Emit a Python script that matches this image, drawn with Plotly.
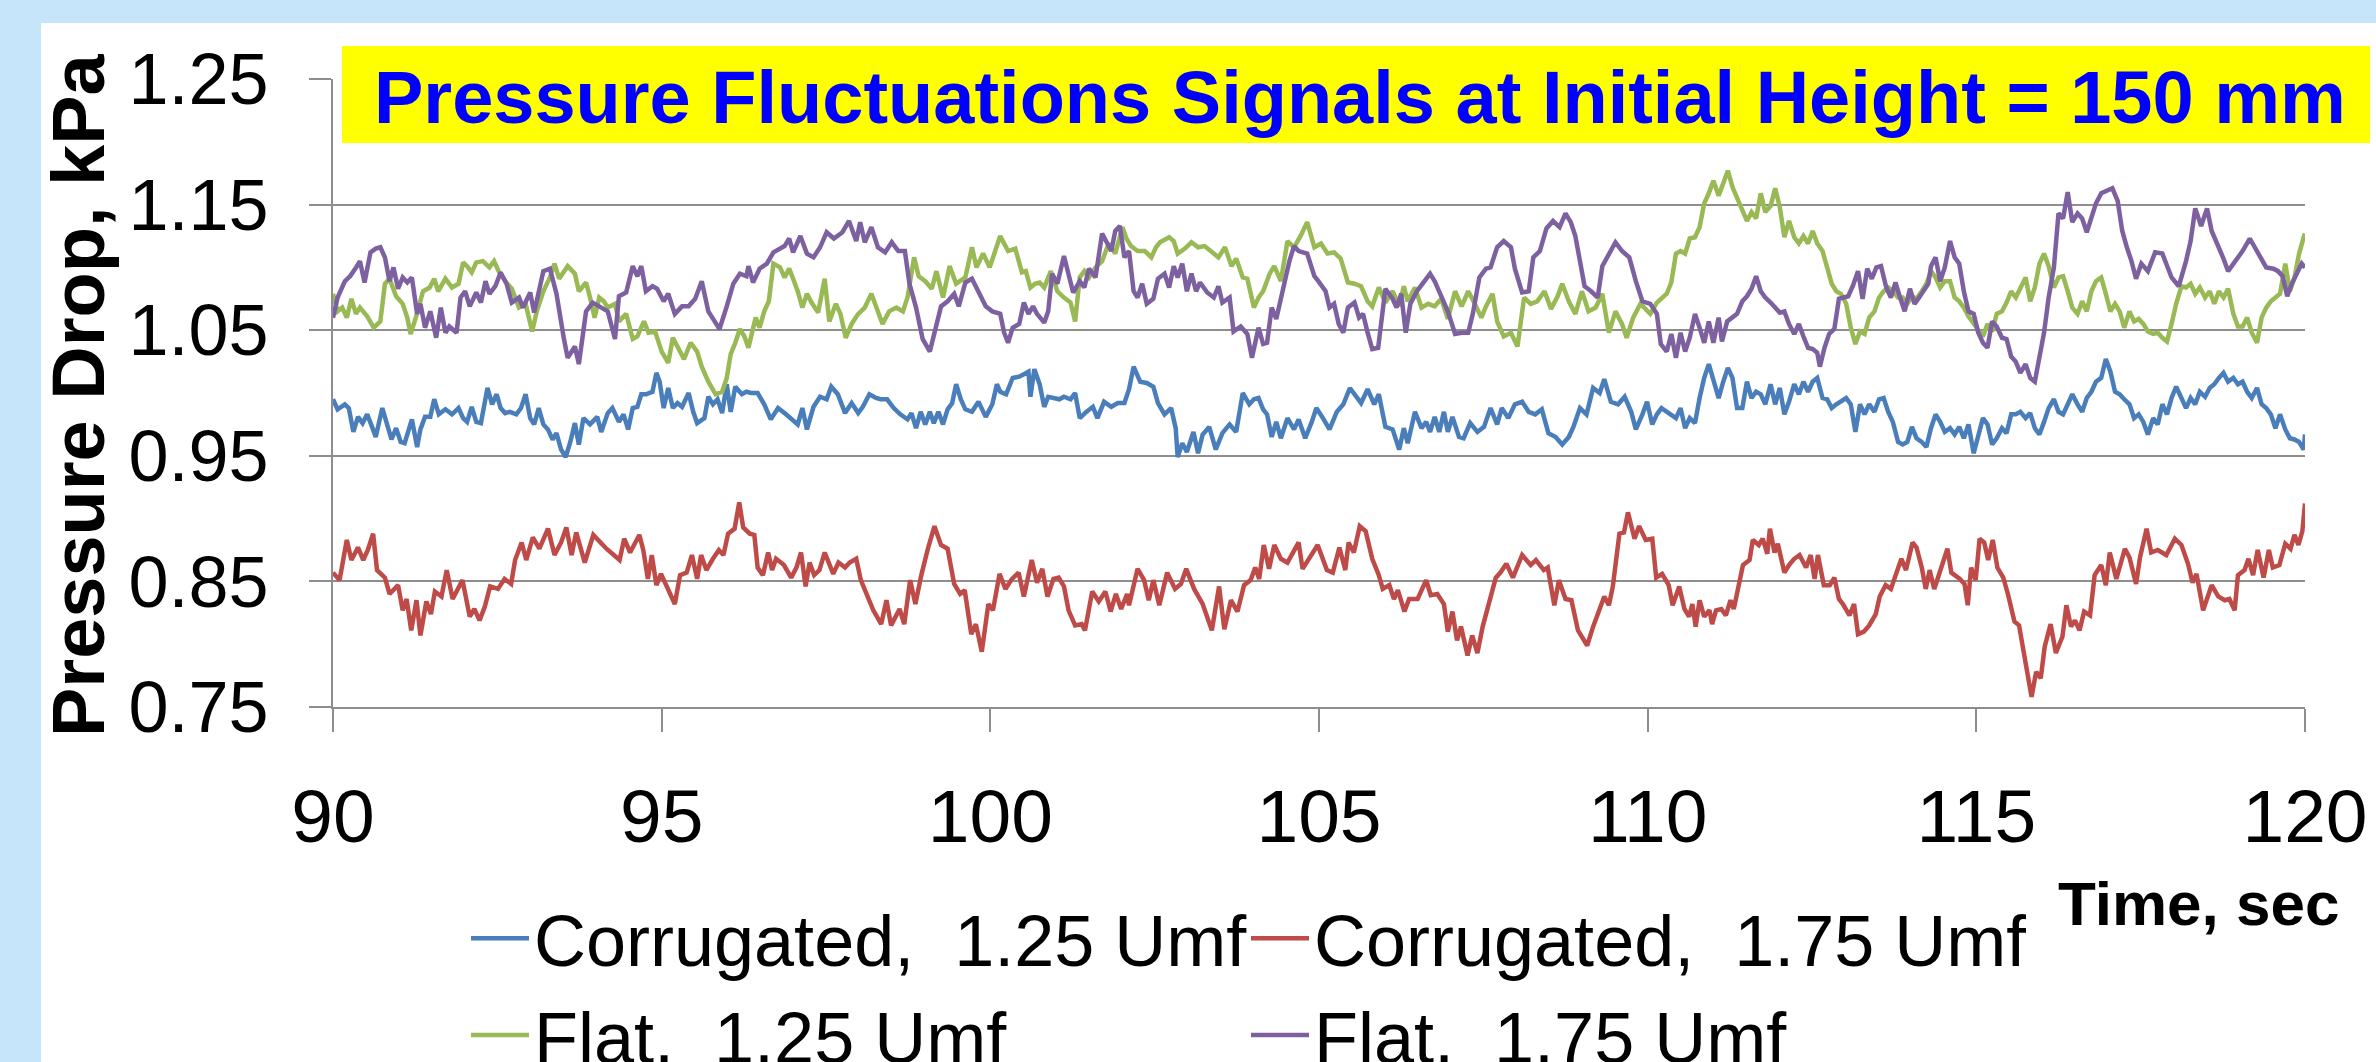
import plotly.graph_objects as go

# ---------------- data ----------------
t_corr125 = [90.00, 90.07, 90.18, 90.24, 90.31, 90.38, 90.45, 90.52, 90.58, 90.65, 90.75, 90.82, 90.89, 90.96, 91.03, 91.09, 91.20, 91.28, 91.33, 91.40,
             91.48, 91.54, 91.61, 91.71, 91.81, 91.91, 91.98, 92.04, 92.11, 92.18, 92.25, 92.35, 92.42, 92.49, 92.55, 92.62, 92.69, 92.79, 92.86, 92.93,
             93.00, 93.06, 93.13, 93.20, 93.27, 93.34, 93.40, 93.47, 93.54, 93.61, 93.68, 93.74, 93.81, 93.91, 94.02, 94.08, 94.18, 94.25, 94.35, 94.42,
             94.49, 94.56, 94.63, 94.69, 94.76, 94.86, 94.92, 94.97, 95.03, 95.10, 95.17, 95.24, 95.31, 95.41, 95.48, 95.54, 95.65, 95.71, 95.78, 95.85,
             95.92, 95.99, 96.05, 96.12, 96.22, 96.29, 96.36, 96.46, 96.56, 96.66, 96.77, 96.87, 96.97, 97.07, 97.14, 97.21, 97.31, 97.41, 97.51, 97.58,
             97.68, 97.79, 97.89, 97.99, 98.06, 98.16, 98.26, 98.33, 98.43, 98.53, 98.63, 98.74, 98.80, 98.87, 98.94, 99.01, 99.08, 99.14, 99.21, 99.28,
             99.35, 99.42, 99.48, 99.55, 99.62, 99.72, 99.82, 99.93, 100.03, 100.10, 100.15, 100.24, 100.34, 100.44, 100.51, 100.58, 100.61, 100.67, 100.75, 100.82,
             100.88, 100.99, 101.05, 101.12, 101.22, 101.29, 101.36, 101.46, 101.56, 101.63, 101.73, 101.84, 101.94, 102.04, 102.11, 102.18, 102.28, 102.38, 102.48, 102.55,
             102.65, 102.75, 102.82, 102.85, 102.92, 102.99, 103.09, 103.16, 103.23, 103.33, 103.43, 103.53, 103.64, 103.74, 103.84, 103.94, 104.01, 104.08, 104.15, 104.21,
             104.28, 104.35, 104.42, 104.52, 104.62, 104.69, 104.79, 104.89, 104.96, 105.06, 105.16, 105.27, 105.37, 105.47, 105.54, 105.64, 105.74, 105.84, 105.91, 106.01,
             106.12, 106.22, 106.29, 106.35, 106.46, 106.56, 106.63, 106.69, 106.76, 106.83, 106.90, 106.96, 107.03, 107.13, 107.20, 107.30, 107.41, 107.51, 107.61, 107.71,
             107.78, 107.88, 107.98, 108.09, 108.19, 108.29, 108.39, 108.49, 108.60, 108.70, 108.80, 108.87, 108.97, 109.07, 109.17, 109.27, 109.34, 109.44, 109.55, 109.65,
             109.75, 109.82, 109.92, 109.99, 110.07, 110.14, 110.21, 110.29, 110.36, 110.43, 110.50, 110.57, 110.64, 110.72, 110.79, 110.86, 110.93, 111.00, 111.08, 111.15,
             111.22, 111.29, 111.36, 111.44, 111.51, 111.58, 111.65, 111.72, 111.79, 111.87, 111.94, 112.01, 112.08, 112.15, 112.23, 112.30, 112.37, 112.44, 112.51, 112.58,
             112.66, 112.73, 112.80, 112.87, 112.94, 113.02, 113.09, 113.16, 113.23, 113.30, 113.37, 113.45, 113.52, 113.59, 113.66, 113.73, 113.81, 113.88, 113.95, 114.02,
             114.09, 114.17, 114.24, 114.31, 114.38, 114.45, 114.52, 114.60, 114.67, 114.74, 114.81, 114.88, 114.96, 115.03, 115.10, 115.17, 115.24, 115.31, 115.39, 115.46,
             115.53, 115.60, 115.67, 115.75, 115.82, 115.89, 115.96, 116.03, 116.10, 116.18, 116.25, 116.32, 116.39, 116.46, 116.54, 116.61, 116.68, 116.75, 116.82, 116.90,
             116.97, 117.04, 117.11, 117.18, 117.25, 117.33, 117.40, 117.47, 117.54, 117.61, 117.69, 117.76, 117.83, 117.90, 117.97, 118.04, 118.12, 118.19, 118.26, 118.33,
             118.40, 118.48, 118.55, 118.62, 118.69, 118.76, 118.83, 118.91, 118.98, 119.05, 119.12, 119.19, 119.27, 119.34, 119.41, 119.48, 119.55, 119.62, 119.70, 119.77,
             119.84, 119.91, 119.98, 120.00]
p_corr125 = [0.995, 0.987, 0.991, 0.988, 0.969, 0.981, 0.976, 0.983, 0.975, 0.965, 0.988, 0.975, 0.963, 0.972, 0.961, 0.960, 0.979, 0.957, 0.971, 0.981,
             0.981, 0.995, 0.983, 0.987, 0.983, 0.988, 0.980, 0.977, 0.989, 0.977, 0.976, 1.004, 0.991, 0.999, 0.988, 0.984, 0.985, 0.983, 0.988, 0.999,
             0.980, 0.975, 0.988, 0.975, 0.971, 0.963, 0.968, 0.955, 0.949, 0.961, 0.976, 0.959, 0.980, 0.975, 0.981, 0.969, 0.984, 0.988, 0.977, 0.983,
             0.971, 0.988, 0.989, 0.999, 0.999, 1.001, 1.016, 1.009, 0.988, 1.004, 0.988, 0.992, 0.989, 1.000, 0.985, 0.976, 0.980, 0.997, 0.991, 0.995,
             0.984, 1.007, 0.985, 1.005, 0.999, 1.001, 1.000, 1.000, 0.991, 0.979, 0.988, 0.984, 0.980, 0.975, 0.988, 0.971, 0.989, 0.997, 0.995, 1.005,
             0.999, 0.984, 0.992, 0.984, 0.989, 0.999, 0.996, 0.995, 0.995, 0.988, 0.983, 0.979, 0.984, 0.972, 0.985, 0.975, 0.985, 0.976, 0.985, 0.975,
             0.987, 0.992, 1.007, 0.995, 0.987, 0.985, 0.993, 0.981, 0.991, 1.007, 1.001, 0.999, 1.012, 1.013, 1.015, 1.017, 0.997, 1.019, 1.007, 0.989,
             0.997, 0.996, 0.995, 0.997, 0.995, 1.000, 0.980, 0.985, 0.989, 0.980, 0.993, 0.989, 0.992, 0.992, 1.003, 1.021, 1.009, 1.008, 1.005, 0.992,
             0.983, 0.988, 0.972, 0.949, 0.960, 0.953, 0.969, 0.952, 0.967, 0.973, 0.955, 0.968, 0.975, 0.969, 1.000, 0.991, 0.995, 0.996, 0.987, 0.983,
             0.965, 0.977, 0.964, 0.980, 0.971, 0.979, 0.964, 0.977, 0.988, 0.980, 0.971, 0.985, 0.991, 1.004, 0.999, 0.992, 1.003, 0.991, 0.999, 0.973,
             0.971, 0.955, 0.972, 0.960, 0.985, 0.972, 0.977, 0.969, 0.981, 0.969, 0.985, 0.969, 0.981, 0.965, 0.964, 0.976, 0.969, 0.973, 0.988, 0.975,
             0.988, 0.980, 0.991, 0.993, 0.985, 0.983, 0.987, 0.968, 0.965, 0.959, 0.965, 0.973, 0.988, 0.983, 1.004, 1.000, 1.011, 0.993, 0.991, 0.997,
             0.985, 0.971, 0.983, 0.993, 0.975, 0.983, 0.988, 0.985, 0.983, 0.980, 0.988, 0.972, 0.980, 0.976, 0.996, 1.012, 1.023, 1.009, 0.996, 1.009,
             1.020, 1.012, 0.988, 0.988, 1.009, 0.996, 1.001, 0.999, 0.991, 1.007, 0.991, 1.004, 0.983, 0.993, 1.007, 0.999, 1.009, 1.001, 1.009, 1.012,
             0.996, 0.995, 0.988, 0.991, 0.993, 0.996, 0.991, 0.969, 0.991, 0.983, 0.991, 0.985, 0.995, 0.996, 0.985, 0.977, 0.961, 0.959, 0.961, 0.973,
             0.964, 0.961, 0.957, 0.972, 0.983, 0.977, 0.969, 0.972, 0.967, 0.973, 0.964, 0.975, 0.952, 0.967, 0.980, 0.975, 0.959, 0.964, 0.972, 0.968,
             0.983, 0.983, 0.985, 0.980, 0.984, 0.972, 0.967, 0.977, 0.988, 0.995, 0.985, 0.983, 0.991, 0.999, 0.991, 0.985, 0.996, 1.001, 1.009, 1.012,
             1.027, 1.017, 1.001, 0.999, 0.995, 0.991, 0.980, 0.983, 0.977, 0.967, 0.980, 0.975, 0.991, 0.983, 0.996, 1.005, 0.996, 0.988, 0.996, 0.991,
             1.001, 0.997, 1.004, 1.007, 1.012, 1.016, 1.009, 1.012, 1.007, 1.009, 1.001, 0.996, 1.004, 0.991, 0.988, 0.983, 0.972, 0.983, 0.971, 0.964,
             0.963, 0.961, 0.955, 0.967]

t_corr175 = [90.00, 90.10, 90.21, 90.28, 90.38, 90.46, 90.53, 90.61, 90.67, 90.79, 90.86, 90.99, 91.06, 91.12, 91.19, 91.27, 91.33, 91.42, 91.49, 91.55,
             91.65, 91.73, 91.82, 91.97, 92.08, 92.15, 92.23, 92.31, 92.39, 92.51, 92.61, 92.71, 92.77, 92.87, 92.94, 93.04, 93.14, 93.27, 93.37, 93.47,
             93.55, 93.63, 93.70, 93.83, 93.96, 94.16, 94.36, 94.43, 94.52, 94.66, 94.72, 94.79, 94.85, 94.92, 94.99, 95.09, 95.20, 95.28, 95.38, 95.46,
             95.54, 95.60, 95.68, 95.78, 95.87, 95.94, 96.01, 96.11, 96.18, 96.24, 96.34, 96.41, 96.46, 96.54, 96.62, 96.68, 96.74, 96.86, 96.97, 97.05,
             97.12, 97.19, 97.25, 97.32, 97.40, 97.48, 97.61, 97.69, 97.79, 97.86, 97.96, 98.03, 98.12, 98.22, 98.34, 98.42, 98.49, 98.62, 98.69, 98.78,
             98.86, 98.95, 99.05, 99.15, 99.25, 99.35, 99.45, 99.54, 99.61, 99.71, 99.78, 99.87, 99.97, 100.04, 100.14, 100.23, 100.33, 100.43, 100.51, 100.63,
             100.71, 100.79, 100.87, 100.96, 101.04, 101.12, 101.19, 101.29, 101.39, 101.44, 101.55, 101.65, 101.75, 101.83, 101.91, 101.99, 102.08, 102.11, 102.24, 102.34,
             102.41, 102.48, 102.57, 102.69, 102.81, 102.90, 102.98, 103.10, 103.23, 103.37, 103.48, 103.56, 103.66, 103.76, 103.86, 103.96, 104.03, 104.09, 104.16, 104.24,
             104.32, 104.42, 104.52, 104.69, 104.75, 104.88, 104.98, 105.12, 105.21, 105.31, 105.40, 105.45, 105.53, 105.62, 105.71, 105.81, 105.91, 105.97, 106.07, 106.14,
             106.20, 106.30, 106.37, 106.50, 106.63, 106.70, 106.80, 106.90, 106.96, 107.03, 107.10, 107.16, 107.26, 107.33, 107.41, 107.49, 107.58, 107.69, 107.76, 107.85,
             107.95, 108.09, 108.22, 108.30, 108.42, 108.48, 108.58, 108.65, 108.75, 108.84, 108.94, 109.08, 109.17, 109.24, 109.34, 109.41, 109.47, 109.57, 109.64, 109.70,
             109.80, 109.87, 109.97, 110.07, 110.13, 110.22, 110.32, 110.38, 110.48, 110.56, 110.63, 110.68, 110.73, 110.79, 110.86, 110.94, 110.98, 111.04, 111.12, 111.19,
             111.26, 111.31, 111.39, 111.45, 111.55, 111.60, 111.69, 111.75, 111.82, 111.86, 111.93, 111.98, 112.08, 112.15, 112.23, 112.31, 112.41, 112.48, 112.54, 112.59,
             112.68, 112.77, 112.84, 112.91, 112.97, 113.07, 113.14, 113.20, 113.29, 113.37, 113.47, 113.53, 113.62, 113.70, 113.80, 113.86, 113.93, 114.03, 114.09, 114.17,
             114.23, 114.29, 114.36, 114.46, 114.56, 114.62, 114.75, 114.82, 114.87, 114.92, 114.99, 115.05, 115.12, 115.18, 115.25, 115.32, 115.41, 115.48, 115.58, 115.65,
             115.74, 115.84, 115.91, 115.98, 116.04, 116.13, 116.21, 116.31, 116.37, 116.44, 116.50, 116.57, 116.64, 116.73, 116.80, 116.90, 116.97, 117.03, 117.13, 117.26,
             117.33, 117.43, 117.49, 117.59, 117.66, 117.76, 117.89, 118.02, 118.12, 118.22, 118.29, 118.35, 118.45, 118.52, 118.58, 118.68, 118.78, 118.85, 118.93, 118.98,
             119.08, 119.14, 119.21, 119.28, 119.37, 119.45, 119.51, 119.61, 119.70, 119.78, 119.84, 119.90, 119.96, 120.00]
p_corr175 = [0.857, 0.851, 0.883, 0.867, 0.877, 0.867, 0.875, 0.888, 0.859, 0.853, 0.840, 0.847, 0.827, 0.836, 0.811, 0.835, 0.807, 0.834, 0.824, 0.842,
             0.838, 0.859, 0.836, 0.851, 0.822, 0.828, 0.819, 0.830, 0.846, 0.844, 0.852, 0.848, 0.867, 0.881, 0.867, 0.885, 0.876, 0.892, 0.871, 0.881,
             0.893, 0.871, 0.889, 0.865, 0.887, 0.876, 0.867, 0.884, 0.873, 0.887, 0.875, 0.852, 0.871, 0.847, 0.856, 0.845, 0.832, 0.855, 0.857, 0.871,
             0.852, 0.871, 0.859, 0.868, 0.875, 0.871, 0.888, 0.892, 0.913, 0.893, 0.888, 0.887, 0.861, 0.855, 0.873, 0.859, 0.868, 0.863, 0.853, 0.861,
             0.873, 0.846, 0.865, 0.855, 0.859, 0.873, 0.856, 0.865, 0.861, 0.865, 0.868, 0.851, 0.840, 0.827, 0.816, 0.835, 0.815, 0.828, 0.816, 0.851,
             0.832, 0.855, 0.876, 0.894, 0.879, 0.876, 0.848, 0.840, 0.843, 0.808, 0.816, 0.794, 0.832, 0.827, 0.856, 0.844, 0.852, 0.857, 0.838, 0.867,
             0.849, 0.860, 0.838, 0.852, 0.853, 0.846, 0.827, 0.815, 0.816, 0.811, 0.842, 0.834, 0.842, 0.826, 0.840, 0.828, 0.840, 0.831, 0.860, 0.851,
             0.835, 0.851, 0.831, 0.857, 0.844, 0.848, 0.860, 0.844, 0.832, 0.811, 0.846, 0.812, 0.835, 0.826, 0.847, 0.851, 0.861, 0.852, 0.879, 0.860,
             0.879, 0.868, 0.865, 0.881, 0.860, 0.871, 0.879, 0.859, 0.857, 0.877, 0.859, 0.881, 0.873, 0.894, 0.890, 0.868, 0.855, 0.844, 0.847, 0.836,
             0.843, 0.826, 0.836, 0.836, 0.851, 0.839, 0.840, 0.832, 0.810, 0.826, 0.803, 0.814, 0.791, 0.807, 0.793, 0.814, 0.832, 0.853, 0.857, 0.864,
             0.853, 0.871, 0.863, 0.867, 0.859, 0.861, 0.831, 0.851, 0.836, 0.835, 0.811, 0.799, 0.814, 0.824, 0.838, 0.831, 0.846, 0.888, 0.889, 0.905,
             0.884, 0.894, 0.883, 0.884, 0.853, 0.856, 0.847, 0.831, 0.846, 0.828, 0.822, 0.832, 0.814, 0.835, 0.822, 0.827, 0.816, 0.827, 0.828, 0.823,
             0.835, 0.828, 0.849, 0.863, 0.867, 0.883, 0.879, 0.884, 0.872, 0.892, 0.873, 0.880, 0.857, 0.863, 0.868, 0.871, 0.861, 0.871, 0.852, 0.871,
             0.847, 0.847, 0.853, 0.836, 0.832, 0.823, 0.832, 0.808, 0.810, 0.815, 0.824, 0.838, 0.847, 0.844, 0.859, 0.868, 0.859, 0.881, 0.877, 0.861,
             0.844, 0.859, 0.844, 0.859, 0.876, 0.857, 0.852, 0.848, 0.831, 0.861, 0.851, 0.884, 0.881, 0.867, 0.883, 0.861, 0.853, 0.840, 0.818, 0.815,
             0.786, 0.758, 0.778, 0.773, 0.798, 0.816, 0.793, 0.806, 0.831, 0.814, 0.819, 0.811, 0.826, 0.823, 0.855, 0.863, 0.847, 0.873, 0.852, 0.876,
             0.869, 0.848, 0.869, 0.892, 0.873, 0.875, 0.871, 0.884, 0.879, 0.864, 0.849, 0.856, 0.827, 0.839, 0.847, 0.838, 0.835, 0.836, 0.827, 0.855,
             0.859, 0.868, 0.855, 0.875, 0.853, 0.875, 0.861, 0.863, 0.880, 0.876, 0.887, 0.879, 0.890, 0.912]

t_flat125 = [90.00, 90.07, 90.14, 90.21, 90.28, 90.35, 90.41, 90.52, 90.62, 90.72, 90.79, 90.86, 90.96, 91.06, 91.13, 91.18, 91.26, 91.37, 91.47, 91.54,
             91.60, 91.71, 91.81, 91.91, 91.98, 92.04, 92.11, 92.18, 92.28, 92.38, 92.45, 92.52, 92.62, 92.72, 92.83, 92.93, 93.03, 93.10, 93.20, 93.30,
             93.37, 93.44, 93.57, 93.68, 93.74, 93.85, 93.91, 93.98, 94.05, 94.12, 94.18, 94.29, 94.35, 94.46, 94.56, 94.63, 94.73, 94.80, 94.90, 95.00,
             95.10, 95.17, 95.24, 95.34, 95.44, 95.54, 95.61, 95.71, 95.82, 95.92, 95.99, 96.05, 96.12, 96.19, 96.26, 96.32, 96.43, 96.49, 96.56, 96.63,
             96.70, 96.80, 96.87, 96.94, 97.00, 97.07, 97.14, 97.21, 97.28, 97.38, 97.48, 97.55, 97.65, 97.72, 97.80, 97.89, 97.99, 98.09, 98.19, 98.29,
             98.36, 98.46, 98.57, 98.67, 98.74, 98.84, 98.91, 99.01, 99.11, 99.18, 99.28, 99.38, 99.48, 99.62, 99.72, 99.79, 99.89, 99.99, 100.15, 100.27,
             100.38, 100.48, 100.54, 100.61, 100.68, 100.75, 100.82, 100.92, 101.02, 101.12, 101.22, 101.29, 101.36, 101.43, 101.50, 101.60, 101.70, 101.80, 101.90, 102.01,
             102.07, 102.14, 102.24, 102.35, 102.45, 102.52, 102.58, 102.72, 102.79, 102.85, 102.96, 103.06, 103.16, 103.26, 103.36, 103.47, 103.57, 103.67, 103.74, 103.84,
             103.91, 104.01, 104.08, 104.15, 104.25, 104.32, 104.42, 104.52, 104.62, 104.72, 104.82, 104.93, 105.03, 105.13, 105.23, 105.33, 105.44, 105.54, 105.64, 105.74,
             105.81, 105.91, 106.01, 106.12, 106.22, 106.29, 106.35, 106.46, 106.56, 106.66, 106.76, 106.86, 106.96, 107.07, 107.17, 107.27, 107.37, 107.47, 107.54, 107.64,
             107.71, 107.81, 107.92, 108.02, 108.12, 108.22, 108.32, 108.43, 108.53, 108.63, 108.70, 108.80, 108.90, 109.00, 109.10, 109.21, 109.31, 109.41, 109.51, 109.61,
             109.68, 109.78, 109.89, 110.04, 110.14, 110.21, 110.29, 110.36, 110.43, 110.50, 110.57, 110.64, 110.72, 110.79, 110.86, 110.93, 111.00, 111.08, 111.15, 111.22,
             111.29, 111.36, 111.44, 111.51, 111.58, 111.65, 111.72, 111.79, 111.87, 111.94, 112.01, 112.08, 112.15, 112.23, 112.30, 112.37, 112.44, 112.51, 112.58, 112.66,
             112.73, 112.80, 112.87, 112.94, 113.02, 113.09, 113.16, 113.23, 113.30, 113.37, 113.45, 113.52, 113.59, 113.66, 113.73, 113.81, 113.88, 113.95, 114.02, 114.09,
             114.17, 114.24, 114.31, 114.38, 114.45, 114.52, 114.60, 114.67, 114.74, 114.81, 114.88, 114.96, 115.03, 115.10, 115.17, 115.24, 115.31, 115.39, 115.46, 115.53,
             115.60, 115.67, 115.75, 115.82, 115.89, 115.96, 116.03, 116.10, 116.18, 116.25, 116.32, 116.39, 116.46, 116.54, 116.61, 116.68, 116.75, 116.82, 116.90, 116.97,
             117.04, 117.11, 117.18, 117.25, 117.33, 117.40, 117.47, 117.54, 117.61, 117.69, 117.76, 117.83, 117.90, 117.97, 118.04, 118.12, 118.19, 118.26, 118.33, 118.40,
             118.48, 118.55, 118.62, 118.69, 118.76, 118.83, 118.91, 118.98, 119.05, 119.12, 119.19, 119.27, 119.34, 119.41, 119.48, 119.55, 119.62, 119.70, 119.77, 119.84,
             119.91, 119.98, 120.00]
p_flat125 = [1.079, 1.065, 1.068, 1.060, 1.075, 1.063, 1.068, 1.061, 1.052, 1.057, 1.087, 1.091, 1.077, 1.071, 1.060, 1.047, 1.060, 1.081, 1.084, 1.091,
             1.081, 1.091, 1.084, 1.087, 1.104, 1.101, 1.096, 1.104, 1.105, 1.100, 1.105, 1.097, 1.089, 1.083, 1.068, 1.071, 1.049, 1.065, 1.081, 1.092,
             1.103, 1.091, 1.101, 1.095, 1.081, 1.088, 1.076, 1.060, 1.076, 1.073, 1.068, 1.071, 1.057, 1.063, 1.043, 1.045, 1.057, 1.048, 1.049, 1.033,
             1.024, 1.044, 1.037, 1.027, 1.040, 1.033, 1.021, 1.009, 0.999, 1.001, 1.012, 1.031, 1.040, 1.051, 1.045, 1.036, 1.060, 1.052, 1.065, 1.073,
             1.103, 1.100, 1.092, 1.099, 1.091, 1.081, 1.068, 1.079, 1.072, 1.064, 1.091, 1.057, 1.071, 1.063, 1.044, 1.055, 1.063, 1.068, 1.079, 1.065,
             1.055, 1.065, 1.068, 1.065, 1.076, 1.108, 1.093, 1.089, 1.083, 1.097, 1.076, 1.101, 1.087, 1.092, 1.116, 1.100, 1.111, 1.100, 1.125, 1.113,
             1.115, 1.096, 1.097, 1.084, 1.087, 1.088, 1.084, 1.097, 1.081, 1.076, 1.072, 1.057, 1.092, 1.097, 1.092, 1.100, 1.105, 1.119, 1.111, 1.132,
             1.123, 1.117, 1.113, 1.113, 1.108, 1.116, 1.120, 1.124, 1.121, 1.111, 1.115, 1.120, 1.116, 1.117, 1.113, 1.108, 1.116, 1.101, 1.107, 1.092,
             1.091, 1.068, 1.076, 1.081, 1.095, 1.101, 1.089, 1.121, 1.116, 1.125, 1.136, 1.116, 1.119, 1.111, 1.112, 1.107, 1.088, 1.087, 1.085, 1.073,
             1.069, 1.084, 1.072, 1.081, 1.069, 1.085, 1.073, 1.084, 1.068, 1.071, 1.069, 1.075, 1.059, 1.081, 1.069, 1.081, 1.071, 1.060, 1.069, 1.079,
             1.057, 1.045, 1.048, 1.037, 1.076, 1.071, 1.073, 1.081, 1.067, 1.077, 1.087, 1.073, 1.063, 1.081, 1.065, 1.068, 1.079, 1.048, 1.065, 1.055,
             1.044, 1.060, 1.071, 1.063, 1.072, 1.075, 1.079, 1.088, 1.111, 1.113, 1.111, 1.123, 1.124, 1.132, 1.151, 1.159, 1.169, 1.157, 1.168, 1.177,
             1.164, 1.156, 1.147, 1.137, 1.144, 1.139, 1.159, 1.144, 1.149, 1.163, 1.148, 1.124, 1.137, 1.124, 1.119, 1.125, 1.119, 1.129, 1.119, 1.113,
             1.100, 1.087, 1.081, 1.079, 1.071, 1.052, 1.039, 1.049, 1.047, 1.060, 1.065, 1.076, 1.081, 1.084, 1.081, 1.076, 1.076, 1.071, 1.077, 1.075,
             1.081, 1.087, 1.097, 1.092, 1.084, 1.089, 1.089, 1.076, 1.073, 1.068, 1.061, 1.055, 1.049, 1.045, 1.055, 1.049, 1.063, 1.065, 1.072, 1.081,
             1.076, 1.084, 1.092, 1.073, 1.084, 1.103, 1.111, 1.101, 1.084, 1.092, 1.093, 1.081, 1.068, 1.063, 1.073, 1.065, 1.081, 1.089, 1.092, 1.079,
             1.065, 1.071, 1.065, 1.052, 1.065, 1.057, 1.059, 1.055, 1.049, 1.047, 1.048, 1.044, 1.041, 1.055, 1.071, 1.085, 1.084, 1.087, 1.079, 1.084,
             1.076, 1.081, 1.071, 1.081, 1.076, 1.083, 1.063, 1.053, 1.053, 1.060, 1.048, 1.040, 1.060, 1.068, 1.073, 1.076, 1.079, 1.103, 1.081, 1.092,
             1.111, 1.124, 1.127]

t_flat175 = [90.00, 90.07, 90.18, 90.26, 90.35, 90.41, 90.48, 90.57, 90.65, 90.72, 90.79, 90.86, 90.92, 90.99, 91.06, 91.13, 91.20, 91.28, 91.33, 91.40,
             91.48, 91.57, 91.64, 91.71, 91.77, 91.88, 91.94, 92.01, 92.08, 92.18, 92.25, 92.32, 92.38, 92.47, 92.55, 92.64, 92.72, 92.83, 92.89, 93.00,
             93.06, 93.13, 93.20, 93.30, 93.40, 93.51, 93.57, 93.68, 93.74, 93.85, 93.95, 94.05, 94.18, 94.29, 94.35, 94.46, 94.56, 94.63, 94.69, 94.76,
             94.86, 94.93, 95.03, 95.10, 95.20, 95.31, 95.41, 95.51, 95.61, 95.71, 95.82, 95.88, 95.99, 96.09, 96.19, 96.29, 96.32, 96.39, 96.49, 96.60,
             96.70, 96.80, 96.87, 96.94, 97.00, 97.11, 97.21, 97.31, 97.41, 97.51, 97.62, 97.75, 97.85, 97.96, 98.02, 98.09, 98.19, 98.29, 98.40, 98.50,
             98.60, 98.70, 98.77, 98.87, 98.97, 99.08, 99.14, 99.25, 99.35, 99.45, 99.52, 99.62, 99.72, 99.82, 99.93, 100.03, 100.15, 100.21, 100.27, 100.34,
             100.44, 100.51, 100.58, 100.65, 100.71, 100.82, 100.88, 100.94, 101.02, 101.12, 101.19, 101.26, 101.36, 101.43, 101.50, 101.60, 101.70, 101.77, 101.84, 101.90,
             101.97, 102.04, 102.11, 102.18, 102.24, 102.31, 102.38, 102.48, 102.55, 102.65, 102.72, 102.79, 102.85, 102.92, 102.99, 103.06, 103.13, 103.19, 103.30, 103.40,
             103.47, 103.53, 103.64, 103.70, 103.81, 103.91, 103.98, 104.08, 104.15, 104.21, 104.28, 104.35, 104.42, 104.49, 104.55, 104.62, 104.69, 104.82, 104.93, 104.99,
             105.10, 105.16, 105.23, 105.30, 105.37, 105.44, 105.54, 105.61, 105.67, 105.74, 105.81, 105.90, 105.95, 106.01, 106.12, 106.18, 106.25, 106.32, 106.39, 106.49,
             106.59, 106.69, 106.76, 106.86, 106.96, 107.07, 107.17, 107.27, 107.34, 107.44, 107.54, 107.61, 107.71, 107.81, 107.92, 107.98, 108.09, 108.19, 108.26, 108.36,
             108.46, 108.56, 108.66, 108.75, 108.83, 108.90, 108.97, 109.04, 109.14, 109.24, 109.31, 109.41, 109.51, 109.61, 109.72, 109.82, 109.92, 110.04, 110.14, 110.20,
             110.29, 110.36, 110.43, 110.50, 110.57, 110.64, 110.72, 110.79, 110.86, 110.93, 111.00, 111.08, 111.13, 111.21, 111.29, 111.36, 111.44, 111.51, 111.58, 111.65,
             111.72, 111.79, 111.87, 111.94, 112.01, 112.08, 112.15, 112.23, 112.30, 112.37, 112.44, 112.51, 112.58, 112.62, 112.69, 112.76, 112.84, 112.91, 112.98, 113.05,
             113.12, 113.20, 113.27, 113.34, 113.41, 113.48, 113.55, 113.63, 113.70, 113.77, 113.84, 113.91, 113.99, 114.06, 114.13, 114.20, 114.27, 114.31, 114.38, 114.45,
             114.52, 114.60, 114.67, 114.74, 114.81, 114.88, 114.96, 115.03, 115.10, 115.17, 115.24, 115.31, 115.39, 115.46, 115.53, 115.60, 115.67, 115.75, 115.82, 115.89,
             115.96, 116.03, 116.10, 116.18, 116.25, 116.32, 116.39, 116.46, 116.54, 116.61, 116.68, 116.75, 116.82, 116.90, 116.97, 117.07, 117.15, 117.22, 117.29, 117.36,
             117.43, 117.51, 117.61, 117.72, 117.83, 117.90, 117.97, 118.08, 118.19, 118.26, 118.33, 118.42, 118.51, 118.58, 118.69, 118.76, 118.83, 118.94, 119.05, 119.16,
             119.27, 119.34, 119.41, 119.52, 119.59, 119.66, 119.73, 119.80, 119.88, 119.95, 120.00]
p_flat175 = [1.060, 1.076, 1.089, 1.093, 1.100, 1.105, 1.088, 1.112, 1.115, 1.116, 1.108, 1.089, 1.100, 1.083, 1.092, 1.088, 1.092, 1.063, 1.071, 1.052,
             1.065, 1.044, 1.068, 1.048, 1.053, 1.048, 1.076, 1.081, 1.069, 1.080, 1.072, 1.089, 1.079, 1.085, 1.096, 1.087, 1.072, 1.076, 1.068, 1.080,
             1.064, 1.079, 1.097, 1.099, 1.079, 1.044, 1.028, 1.037, 1.023, 1.065, 1.072, 1.069, 1.065, 1.043, 1.077, 1.080, 1.101, 1.093, 1.101, 1.081,
             1.085, 1.083, 1.073, 1.079, 1.063, 1.069, 1.069, 1.075, 1.089, 1.065, 1.056, 1.051, 1.069, 1.087, 1.095, 1.093, 1.101, 1.088, 1.099, 1.103,
             1.112, 1.115, 1.117, 1.123, 1.112, 1.125, 1.111, 1.108, 1.116, 1.128, 1.123, 1.128, 1.137, 1.121, 1.136, 1.120, 1.132, 1.116, 1.112, 1.120,
             1.113, 1.113, 1.087, 1.068, 1.043, 1.033, 1.045, 1.069, 1.073, 1.079, 1.069, 1.088, 1.091, 1.080, 1.069, 1.065, 1.063, 1.048, 1.040, 1.052,
             1.055, 1.072, 1.063, 1.069, 1.063, 1.056, 1.065, 1.095, 1.087, 1.109, 1.095, 1.080, 1.089, 1.084, 1.099, 1.092, 1.127, 1.120, 1.113, 1.129,
             1.133, 1.108, 1.113, 1.081, 1.076, 1.087, 1.071, 1.075, 1.091, 1.095, 1.084, 1.101, 1.092, 1.103, 1.081, 1.095, 1.081, 1.088, 1.080, 1.076,
             1.085, 1.072, 1.076, 1.049, 1.053, 1.047, 1.028, 1.052, 1.039, 1.040, 1.068, 1.059, 1.076, 1.089, 1.105, 1.117, 1.113, 1.111, 1.093, 1.089,
             1.081, 1.068, 1.071, 1.055, 1.048, 1.068, 1.072, 1.060, 1.063, 1.048, 1.035, 1.036, 1.055, 1.083, 1.075, 1.068, 1.079, 1.048, 1.071, 1.081,
             1.088, 1.095, 1.089, 1.076, 1.065, 1.047, 1.048, 1.048, 1.063, 1.092, 1.099, 1.100, 1.116, 1.121, 1.116, 1.099, 1.080, 1.081, 1.108, 1.113,
             1.131, 1.137, 1.132, 1.143, 1.136, 1.125, 1.105, 1.085, 1.081, 1.076, 1.101, 1.111, 1.120, 1.113, 1.108, 1.089, 1.073, 1.071, 1.063, 1.039,
             1.033, 1.047, 1.028, 1.048, 1.033, 1.044, 1.063, 1.052, 1.040, 1.057, 1.040, 1.060, 1.041, 1.057, 1.060, 1.063, 1.073, 1.077, 1.083, 1.093,
             1.081, 1.076, 1.072, 1.068, 1.064, 1.065, 1.055, 1.047, 1.055, 1.045, 1.036, 1.035, 1.032, 1.021, 1.036, 1.047, 1.051, 1.075, 1.076, 1.077,
             1.085, 1.097, 1.075, 1.099, 1.091, 1.100, 1.101, 1.084, 1.076, 1.088, 1.076, 1.065, 1.083, 1.071, 1.076, 1.081, 1.087, 1.101, 1.108, 1.089,
             1.100, 1.121, 1.108, 1.103, 1.081, 1.065, 1.063, 1.048, 1.040, 1.036, 1.057, 1.053, 1.044, 1.043, 1.029, 1.025, 1.016, 1.023, 1.012, 1.009,
             1.028, 1.048, 1.076, 1.100, 1.143, 1.139, 1.160, 1.136, 1.143, 1.139, 1.128, 1.139, 1.151, 1.159, 1.161, 1.163, 1.153, 1.129, 1.116, 1.105,
             1.091, 1.103, 1.097, 1.112, 1.111, 1.101, 1.092, 1.085, 1.105, 1.121, 1.147, 1.133, 1.147, 1.129, 1.116, 1.107, 1.097, 1.105, 1.113, 1.123,
             1.113, 1.108, 1.100, 1.099, 1.097, 1.093, 1.077, 1.087, 1.096, 1.103, 1.100]

series_names = ["Corrugated,\u00a0 1.25 Umf", "Corrugated,\u00a0 1.75 Umf",
                "Flat,\u00a0 1.25 Umf", "Flat,\u00a0 1.75 Umf"]
series_colors = ["#4A7EBB", "#BE4B48", "#98B954", "#7D60A0"]

x_ticks = [90, 95, 100, 105, 110, 115, 120]
y_ticks = [0.75, 0.85, 0.95, 1.05, 1.15, 1.25]

title_text = "Pressure Fluctuations Signals at Initial Height = 150 mm"
y_title = "Pressure Drop, kPa"
x_title = "Time, sec"

# ---------------- figure ----------------
FONT = "Arial, 'Liberation Sans', Arimo, sans-serif"
GRID = "#8E8E8E"

W, H = 2376, 1062
L, R, T, B = 333, 71, 79, 355
pw, ph = W - L - R, H - T - B


def px_x(x):  # pixel -> paper fraction (x)
    return (x - L) / pw


def px_y(y):  # pixel -> paper fraction (y)
    return (H - B - y) / ph


fig = go.Figure()
for tx, py, name, col in zip([t_corr125, t_corr175, t_flat125, t_flat175],
                             [p_corr125, p_corr175, p_flat125, p_flat175],
                             series_names, series_colors):
    fig.add_trace(go.Scatter(x=tx, y=py, mode="lines", name=name,
                             line=dict(color=col, width=4.5)))

fig.update_layout(
    width=W, height=H,
    margin=dict(l=L, r=R, t=T, b=B, autoexpand=False),
    paper_bgcolor="#C6E5FB",
    plot_bgcolor="white",
    showlegend=True,
    font=dict(family=FONT, color="black", size=72),
    legend=dict(
        orientation="h",
        x=px_x(466), y=px_y(885), xanchor="left", yanchor="top",
        font=dict(family=FONT, size=72, color="black"),
        bgcolor="rgba(0,0,0,0)",
        entrywidth=707, entrywidthmode="pixels",
        itemwidth=58, tracegroupgap=0, traceorder="normal",
    ),
    xaxis=dict(
        range=[90, 120], tickvals=x_ticks, ticktext=[str(v) for v in x_ticks],
        showgrid=False, zeroline=False,
        showline=True, linecolor=GRID, linewidth=2,
        ticks="outside", ticklen=23, tickwidth=2, tickcolor=GRID,
        tickfont=dict(family=FONT, size=75, color="black"),
        ticklabelstandoff=20,
    ),
    yaxis=dict(
        range=[0.75, 1.25], tickvals=y_ticks, ticktext=[f"{v:.2f}" for v in y_ticks],
        showgrid=True, gridcolor=GRID, gridwidth=2, zeroline=False,
        showline=True, linecolor=GRID, linewidth=2,
        ticks="outside", ticklen=22, tickwidth=2, tickcolor=GRID,
        tickfont=dict(family=FONT, size=72, color="black"),
        ticklabelstandoff=26,
    ),
    shapes=[
        # white chart panel
        dict(type="rect", xref="paper", yref="paper", layer="below",
             x0=px_x(41), x1=px_x(W + 20), y0=px_y(H + 20), y1=px_y(23),
             fillcolor="white", line=dict(width=0)),
        # yellow title box
        dict(type="rect", xref="paper", yref="paper", layer="above",
             x0=px_x(342), x1=px_x(2370), y0=px_y(143), y1=px_y(46),
             fillcolor="#FFFF00", line=dict(width=0)),
    ],
    annotations=[
        dict(text=title_text, xref="paper", yref="paper",
             x=px_x(372), y=px_y(97), xanchor="left", yanchor="middle",
             showarrow=False,
             font=dict(family=FONT, size=74, color="#0000FF", weight="bold")),
        dict(text=y_title, xref="paper", yref="paper",
             x=px_x(78), y=px_y(395), xanchor="center", yanchor="middle",
             textangle=-90, showarrow=False,
             font=dict(family=FONT, size=74, color="black", weight="bold")),
        dict(text=x_title, xref="paper", yref="paper",
             x=px_x(2198), y=px_y(903), xanchor="center", yanchor="middle",
             showarrow=False,
             font=dict(family=FONT, size=62, color="black", weight="bold")),
    ],
)

fig.write_html("out.html", config={"displayModeBar": False},
               post_script="document.body.style.margin='0';document.body.style.overflow='hidden';")
